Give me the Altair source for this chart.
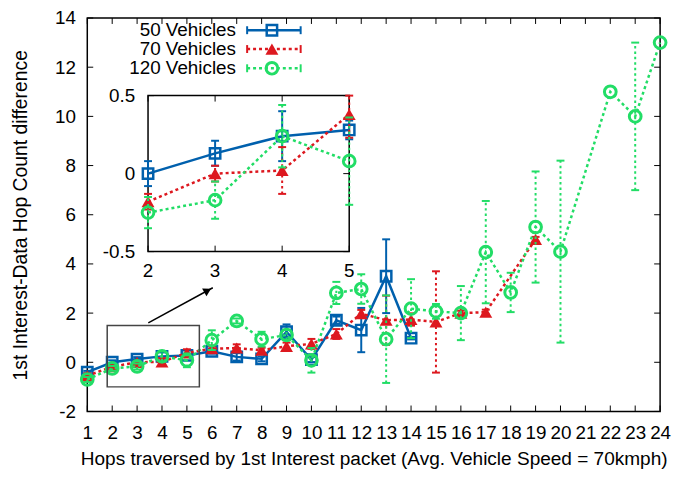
import altair as alt
import pandas as pd

FONT = "Liberation Sans"

# ---------------- data ----------------
blue_x = list(range(1, 15))
blue_y = [-0.4, 0.0, 0.13, 0.24, 0.28, 0.45, 0.22, 0.14, 1.24, 0.11, 1.71, 1.31, 3.5, 0.98]
blue_err = [0.05, 0.08, 0.08, 0.16, 0.06, 0.1, 0.15, 0.1, 0.3, 0.1, 0.15, 0.9, 1.5, 0.05]

red_x = list(range(1, 18)) + [19]
red_y = [-0.55, -0.18, 0.0, 0.02, 0.38, 0.55, 0.58, 0.49, 0.65, 0.75, 1.15, 1.98,
         1.71, 1.74, 1.64, 2.0, 2.04, 5.0]
red_err = [0.1, 0.05, 0.05, 0.15, 0.15, 0.1, 0.15, 0.1, 0.15, 0.2, 0.2, 0.15,
           1.0, 0.25, 2.06, 0.1, 0.1, 0.1]

green_x = list(range(1, 21)) + [22, 23, 24]
green_y = [-0.7, -0.25, -0.17, 0.24, 0.08, 0.9, 1.68, 0.94, 1.11, 0.08, 2.82, 2.98,
           0.94, 2.18, 2.07, 2.0, 4.48, 2.84, 5.5, 4.5, 11.0, 10.0, 13.0]
green_err = [0.1, 0.1, 0.12, 0.2, 0.28, 0.4, 0.1, 0.3, 0.2, 0.5, 0.45, 0.6,
             1.78, 1.2, 0.3, 1.1, 2.08, 0.8, 2.26, 3.7, 0.0, 3.0, 0.0]

series_names = ["50 Vehicles", "70 Vehicles", "120 Vehicles"]

x_ticks = list(range(1, 25))
y_ticks = list(range(-2, 15, 2))
x_domain = [1, 24]
y_domain = [-2, 14]

inset_x_domain = [2, 5]
inset_y_domain = [-0.5, 0.5]
inset_x_ticks = [2, 3, 4, 5]
inset_y_ticks = [-0.5, 0, 0.5]
inset_y_labels = ["-0.5", "0", "0.5"]

zoom_box_x = [1.8, 5.5]
zoom_box_y = [-1.0, 1.5]
arrow_x = [3.45, 6.04]
arrow_y = [1.6, 3.03]

XT = "Hops traversed by 1st Interest packet (Avg. Vehicle Speed = 70kmph)"
YT = "1st Interest-Data Hop Count difference"

# ---------------- styles ----------------
W, H = 578, 397
TOP = 8
FS = 19
IX0, IX1 = 61.3, 264.3                # inset pixel range (x)
IY0, IY1 = 251.7 - 8 - TOP, 94.3 - 8 - TOP   # inset pixel range (y: bottom, top)
TICK = 6

styles = [
    dict(color="#0060ad", dash=None, edash=None, shape="square", filled=False, size=110, sw=2.5),
    dict(color="#dd181f", dash=[3, 3], edash=[2.5, 3], shape="triangle-up", filled=True, size=170, sw=1),
    dict(color="#22dd66", dash=[3, 3], edash=[2.5, 3], shape="circle", filled=False, size=140, sw=3),
]
series = [
    (blue_x, blue_y, blue_err),
    (red_x, red_y, red_err),
    (green_x, green_y, green_err),
]

xs_main = alt.Scale(domain=x_domain, nice=False, zero=False)
ys_main = alt.Scale(domain=y_domain, nice=False, zero=False)
xs_in = alt.Scale(domain=inset_x_domain, range=[IX0, IX1], nice=False, zero=False, clamp=True)
ys_in = alt.Scale(domain=inset_y_domain, range=[IY0, IY1], nice=False, zero=False, clamp=True)

ax_x = alt.Axis(values=x_ticks, ticks=False, domain=False, grid=False,
                labelExpr="toString(datum.value)",
                labelFont=FONT, labelFontSize=FS, labelColor="black", labelPadding=12,
                labelFlush=False, labelOverlap=False, labelBound=False,
                titleFont=FONT, titleFontSize=19.2, titleFontWeight="normal", titleColor="black",
                titleY=54, titleBaseline="alphabetic")
ax_y = alt.Axis(values=y_ticks, ticks=False, domain=False, grid=False,
                labelExpr="toString(datum.value)",
                labelFont=FONT, labelFontSize=FS, labelColor="black", labelPadding=12,
                labelFlush=False, labelOverlap=False, labelBound=False,
                titleFont=FONT, titleFontSize=19.5, titleFontWeight="normal", titleColor="black",
                titleX=-61, titleY=H / 2, titleAngle=270, titleBaseline="alphabetic",
                titleAlign="center")


def MX(f):
    return alt.X(f, type="quantitative", scale=xs_main, axis=ax_x, title=XT)


def MY(f):
    return alt.Y(f, type="quantitative", scale=ys_main, axis=ax_y, title=YT)


def IXe(f):
    return alt.X(f, type="quantitative", scale=xs_in, axis=None)


def IYe(f):
    return alt.Y(f, type="quantitative", scale=ys_in, axis=None)


def series_layers(xv, yv, ev, st, fx, fy, xmin=None, xmax=None):
    rows = [(a, b, e) for a, b, e in zip(xv, yv, ev)
            if (xmin is None or a >= xmin) and (xmax is None or a <= xmax)]
    df = pd.DataFrame({"x": [r[0] for r in rows], "y": [r[1] for r in rows],
                       "lo": [r[1] - r[2] for r in rows], "hi": [r[1] + r[2] for r in rows],
                       "e": [r[2] for r in rows]})
    dfe = df[df["e"] > 0]
    ekw = dict(color=st["color"], strokeWidth=2)
    if st["edash"]:
        ekw["strokeDash"] = st["edash"]
    lkw = dict(color=st["color"], strokeWidth=2.5)
    if st["dash"]:
        lkw["strokeDash"] = st["dash"]
    out = [
        alt.Chart(dfe).mark_rule(**ekw).encode(x=fx("x"), y=fy("lo"), y2="hi"),
        alt.Chart(dfe).mark_tick(orient="horizontal", size=8, thickness=2, color=st["color"],
                                 opacity=1).encode(x=fx("x"), y=fy("lo")),
        alt.Chart(dfe).mark_tick(orient="horizontal", size=8, thickness=2, color=st["color"],
                                 opacity=1).encode(x=fx("x"), y=fy("hi")),
        alt.Chart(df).mark_line(**lkw).encode(x=fx("x"), y=fy("y")),
        alt.Chart(df).mark_point(shape=st["shape"], filled=st["filled"], size=st["size"],
                                 strokeWidth=st["sw"], color=st["color"], opacity=1)
        .encode(x=fx("x"), y=fy("y")),
    ]
    return out


one = pd.DataFrame({"a": [0]})

# ---------------- main plot ----------------
main = []
tx = pd.DataFrame({"t": x_ticks})
ty = pd.DataFrame({"t": y_ticks})
main.append(alt.Chart(tx).mark_rule(color="black", strokeWidth=1)
            .encode(x=MX("t"), y=alt.value(H), y2=alt.value(H - TICK)))
main.append(alt.Chart(tx).mark_rule(color="black", strokeWidth=1)
            .encode(x=MX("t"), y=alt.value(0), y2=alt.value(TICK)))
main.append(alt.Chart(ty).mark_rule(color="black", strokeWidth=1)
            .encode(y=MY("t"), x=alt.value(0), x2=alt.value(TICK)))
main.append(alt.Chart(ty).mark_rule(color="black", strokeWidth=1)
            .encode(y=MY("t"), x=alt.value(W), x2=alt.value(W - TICK)))

for (xv, yv, ev), st in zip(series, styles):
    main += series_layers(xv, yv, ev, st, MX, MY)

box = pd.DataFrame({"x1": [zoom_box_x[0]], "x2": [zoom_box_x[1]],
                    "y1": [zoom_box_y[0]], "y2": [zoom_box_y[1]]})
main.append(alt.Chart(box).mark_rect(fillOpacity=0, stroke="#444444", strokeWidth=1.5)
            .encode(x=MX("x1"), x2="x2", y=MY("y1"), y2="y2"))

arr = pd.DataFrame({"x": arrow_x, "y": arrow_y})
main.append(alt.Chart(arr).mark_line(color="black", strokeWidth=1.5)
            .encode(x=MX("x"), y=MY("y")))
hx = arrow_x[1] - 0.08 * (arrow_x[1] - arrow_x[0])
hy = arrow_y[1] - 0.08 * (arrow_y[1] - arrow_y[0])
head = pd.DataFrame({"x": [hx], "y": [hy]})
main.append(alt.Chart(head).mark_point(shape="triangle-right", filled=True, angle=330.6,
                                       size=80, color="black", opacity=1)
            .encode(x=MX("x"), y=MY("y")))

# legend
LEG_ROWS = [28.3 - 8 - TOP, 47.3 - 8 - TOP, 66.7 - 8 - TOP]
LX_TEXT, LX0, LX1, LXM = 150, 161.3, 215.3, 186.3
for name, st, ry in zip(series_names, styles, LEG_ROWS):
    lkw = dict(color=st["color"], strokeWidth=2.5)
    if st["dash"]:
        lkw["strokeDash"] = st["dash"]
    main.append(alt.Chart(one).mark_text(text=name, align="right", baseline="middle", font=FONT,
                                         fontSize=FS, color="black")
                .encode(x=alt.value(LX_TEXT), y=alt.value(ry)))
    main.append(alt.Chart(one).mark_rule(**lkw)
                .encode(x=alt.value(LX0), x2=alt.value(LX1), y=alt.value(ry)))
    for cx in (LX0, LX1):
        main.append(alt.Chart(one).mark_rule(color=st["color"], strokeWidth=2)
                    .encode(x=alt.value(cx), y=alt.value(ry - 4), y2=alt.value(ry + 4)))
    main.append(alt.Chart(one).mark_point(shape=st["shape"], filled=st["filled"], size=st["size"],
                                          strokeWidth=st["sw"], color=st["color"], opacity=1)
                .encode(x=alt.value(LXM), y=alt.value(ry)))

# ---------------- inset ----------------
inset = []
ibox = pd.DataFrame({"x1": [inset_x_domain[0]], "x2": [inset_x_domain[1]],
                     "y1": [inset_y_domain[0]], "y2": [inset_y_domain[1]]})
inset.append(alt.Chart(ibox).mark_rect(fill="white", stroke="black", strokeWidth=1.5)
             .encode(x=IXe("x1"), x2="x2", y=IYe("y1"), y2="y2"))
itx = pd.DataFrame({"t": inset_x_ticks})
ity = pd.DataFrame({"t": inset_y_ticks})
inset.append(alt.Chart(itx).mark_rule(color="black", strokeWidth=1)
             .encode(x=IXe("t"), y=alt.value(IY0), y2=alt.value(IY0 - TICK)))
inset.append(alt.Chart(itx).mark_rule(color="black", strokeWidth=1)
             .encode(x=IXe("t"), y=alt.value(IY1), y2=alt.value(IY1 + TICK)))
inset.append(alt.Chart(ity).mark_rule(color="black", strokeWidth=1)
             .encode(y=IYe("t"), x=alt.value(IX0), x2=alt.value(IX0 + TICK)))
inset.append(alt.Chart(ity).mark_rule(color="black", strokeWidth=1)
             .encode(y=IYe("t"), x=alt.value(IX1), x2=alt.value(IX1 - TICK)))

for (xv, yv, ev), st in zip(series, styles):
    inset += series_layers(xv, yv, ev, st, IXe, IYe, inset_x_domain[0], inset_x_domain[1])

ixl = pd.DataFrame({"t": inset_x_ticks, "b": [inset_y_domain[0]] * len(inset_x_ticks)})
inset.append(alt.Chart(ixl).mark_text(baseline="alphabetic", dy=26, font=FONT, fontSize=FS,
                                      color="black")
             .encode(x=IXe("t"), y=IYe("b"), text="t:N"))
iyl = pd.DataFrame({"t": inset_y_ticks, "lab": inset_y_labels,
                    "l": [inset_x_domain[0]] * len(inset_y_ticks)})
inset.append(alt.Chart(iyl).mark_text(align="right", baseline="middle", dx=-13, font=FONT,
                                      fontSize=FS, color="black")
             .encode(x=IXe("l"), y=IYe("t"), text="lab:N"))

chart = (
    alt.layer(alt.layer(*main), alt.layer(*inset))
    .resolve_scale(x="independent", y="independent")
    .properties(width=W, height=H, autosize=alt.AutoSizeParams(type="none"),
                padding={"left": 80, "top": TOP, "right": 12, "bottom": 62})
    .configure_view(stroke="black", strokeWidth=1.5)
)

chart.save("out.html", embed_options={"renderer": "svg", "actions": False})
